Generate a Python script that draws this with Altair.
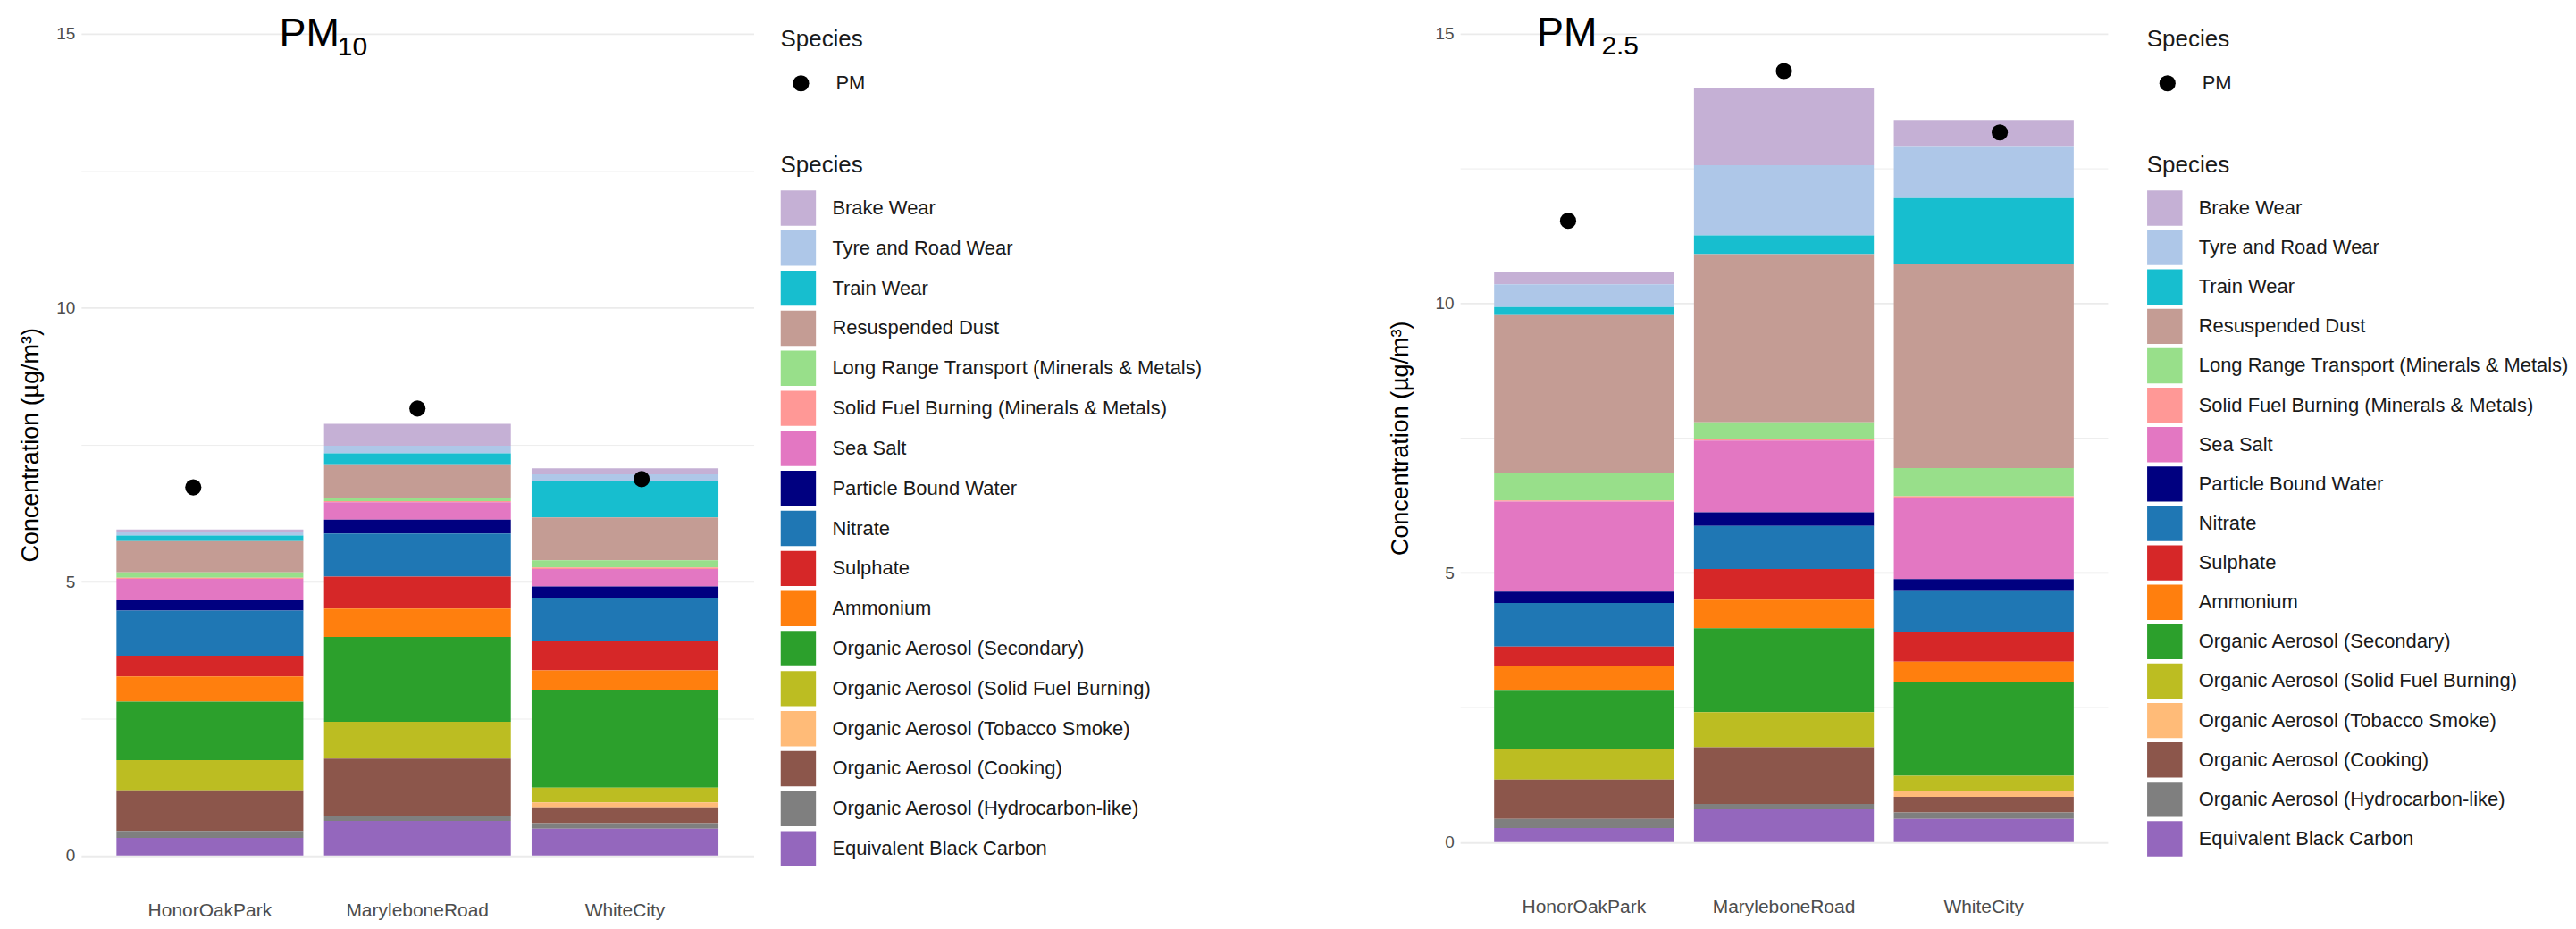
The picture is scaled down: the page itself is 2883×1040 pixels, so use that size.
import altair as alt
import pandas as pd

sites = ["HonorOakPark", "MaryleboneRoad", "WhiteCity"]

# legend order (top of the stack first)
species = [
    "Brake Wear", "Tyre and Road Wear", "Train Wear", "Resuspended Dust",
    "Long Range Transport (Minerals & Metals)", "Solid Fuel Burning (Minerals & Metals)",
    "Sea Salt", "Particle Bound Water", "Nitrate", "Sulphate", "Ammonium",
    "Organic Aerosol (Secondary)", "Organic Aerosol (Solid Fuel Burning)",
    "Organic Aerosol (Tobacco Smoke)", "Organic Aerosol (Cooking)",
    "Organic Aerosol (Hydrocarbon-like)", "Equivalent Black Carbon",
]
colors = [
    "#c5b0d5", "#aec7e8", "#17becf", "#c49c94", "#98df8a", "#ff9896",
    "#e377c2", "#000080", "#1f77b4", "#d62728", "#ff7f0e", "#2ca02c",
    "#bcbd22", "#ffbb78", "#8c564b", "#7f7f7f", "#9467bd",
]

# PM10 contributions per site, in legend order
pm10_honor = [0.05, 0.06, 0.10, 0.57, 0.10, 0.02, 0.39, 0.19, 0.82, 0.38, 0.46, 1.07, 0.55, 0.00, 0.74, 0.13, 0.32]
pm10_maryl = [0.40, 0.14, 0.20, 0.61, 0.06, 0.02, 0.32, 0.25, 0.79, 0.58, 0.52, 1.55, 0.67, 0.00, 1.04, 0.10, 0.63]
pm10_white = [0.11, 0.13, 0.66, 0.78, 0.13, 0.03, 0.32, 0.22, 0.78, 0.53, 0.36, 1.78, 0.27, 0.09, 0.29, 0.10, 0.49]
pm10_total = [6.72, 8.16, 6.87]

# PM2.5 contributions per site, in legend order
pm25_honor = [0.22, 0.42, 0.15, 2.93, 0.51, 0.02, 1.67, 0.21, 0.81, 0.37, 0.45, 1.09, 0.56, 0.00, 0.73, 0.17, 0.26]
pm25_maryl = [1.43, 1.30, 0.35, 3.12, 0.32, 0.02, 1.33, 0.25, 0.80, 0.57, 0.53, 1.56, 0.65, 0.00, 1.05, 0.10, 0.61]
pm25_white = [0.50, 0.95, 1.23, 3.78, 0.52, 0.03, 1.51, 0.22, 0.76, 0.55, 0.37, 1.75, 0.28, 0.11, 0.29, 0.12, 0.43]
pm25_total = [11.53, 14.31, 13.17]

y_ticks = [0, 2.5, 5, 7.5, 10, 12.5, 15]
FONT = "Liberation Sans"


def panel(site_values, totals, title, subscript, title_dx, title_offset, title_dy,
          sub_x, sub_y, width, height, legend_x, x_label_pad, row_pad, y_title_pad):
    rows = []
    for site, vals in zip(sites, site_values):
        for i, (sp, v) in enumerate(zip(species, vals)):
            rows.append({"Site": site, "Species": sp, "Value": v,
                         "rank": len(species) - 1 - i})
    bars_df = pd.DataFrame(rows)
    pts_df = pd.DataFrame({"Site": sites, "PM": totals, "Series": ["PM"] * 3})

    band = dict(paddingInner=0.1, paddingOuter=0.17)
    x_enc = alt.X(
        "Site:N", sort=sites, scale=alt.Scale(**band),
        axis=alt.Axis(title=None, labelAngle=0, ticks=False, domain=False,
                      grid=False, labelFontSize=21, labelColor="#4d4d4d",
                      labelFont=FONT, labelPadding=x_label_pad),
    )
    y_scale = alt.Scale(domain=[0, 15], nice=False)
    y_axis = alt.Axis(
        values=y_ticks,
        labelExpr="datum.value % 5 === 0 ? '' + datum.value : ''",
        gridColor="#ebebeb",
        gridWidth={"condition": {"test": "datum.value % 5 === 0", "value": 1.8}, "value": 0.9},
        ticks=False, domain=False, labelPadding=7, labelFontSize=19,
        labelColor="#4d4d4d", labelFont=FONT,
        title="Concentration (µg/m³)", titleFontSize=27, titleFont=FONT,
        titleFontWeight="normal", titleColor="black", titlePadding=y_title_pad,
    )

    bars = alt.Chart(bars_df).mark_bar(opacity=1).encode(
        x=x_enc,
        y=alt.Y("Value:Q", stack="zero", scale=y_scale, axis=y_axis),
        color=alt.Color(
            "Species:N",
            scale=alt.Scale(domain=species, range=colors),
            legend=alt.Legend(
                orient="none", legendX=legend_x, legendY=134,
                direction="vertical", title="Species",
                symbolType="square", symbolSize=1560, symbolStrokeWidth=0,
                symbolOpacity=1, labelOffset=18, titlePadding=15.5,
                rowPadding=row_pad, labelLimit=800, labelFontSize=22,
                labelFont=FONT, labelColor="#1a1a1a", titleFontSize=26,
                titleFont=FONT, titleFontWeight="normal", titleColor="#1a1a1a",
            ),
        ),
        order=alt.Order("rank:Q", sort="ascending"),
    )

    # the point layer carries a label-less top axis whose title is the
    # subscript of the panel heading
    points = alt.Chart(pts_df).mark_point(filled=True, size=330, color="black", opacity=1).encode(
        x=alt.X(
            "Site:N", sort=sites, scale=alt.Scale(**band),
            axis=alt.Axis(
                orient="top", labels=False, ticks=False, domain=False, grid=False,
                title=subscript, titleX=sub_x, titleY=sub_y, titleAlign="left",
                titleBaseline="alphabetic", titleAngle=0, titleFontSize=30,
                titleFont=FONT, titleFontWeight="normal", titleColor="black",
            ),
        ),
        y=alt.Y("PM:Q"),
        shape=alt.Shape(
            "Series:N",
            scale=alt.Scale(domain=["PM"], range=["circle"]),
            legend=alt.Legend(
                orient="none", legendX=legend_x, legendY=-6.5,
                direction="vertical", title="Species",
                symbolSize=330, symbolFillColor="black", symbolStrokeColor="black",
                symbolOffset=12, labelOffset=28, titlePadding=25,
                labelFontSize=22, labelFont=FONT, labelColor="#1a1a1a",
                titleFontSize=26, titleFont=FONT, titleFontWeight="normal",
                titleColor="#1a1a1a",
            ),
        ),
    )

    return alt.layer(bars, points).resolve_scale(x="independent").resolve_axis(
        x="independent"
    ).properties(
        width=width, height=height,
        title=alt.TitleParams(
            text=title, anchor="start", frame="group", dx=title_dx, dy=title_dy,
            offset=title_offset, fontSize=45, font=FONT, fontWeight="normal",
            color="black", baseline="alphabetic",
        ),
    )


left = panel([pm10_honor, pm10_maryl, pm10_white], pm10_total, "PM", "10",
             222, -29, 39.5, 287, 24, 754, 921.5, 784, 51, 4.9, 14)
right = panel([pm25_honor, pm25_maryl, pm25_white], pm25_total, "PM", "2.5",
              86, -24, 43.5, 158, 22.5, 726, 906.5, 770, 62, 4.2, 24.5)

chart = alt.hconcat(left, right, spacing=208).resolve_scale(
    color="independent", shape="independent", x="independent", y="independent"
).resolve_legend(color="independent", shape="independent").properties(
    padding={"left": 12, "top": 6, "right": 0, "bottom": 0},
    background="white",
).configure_view(stroke=None)

chart.save("out.html", embed_options={"renderer": "svg", "actions": False})
